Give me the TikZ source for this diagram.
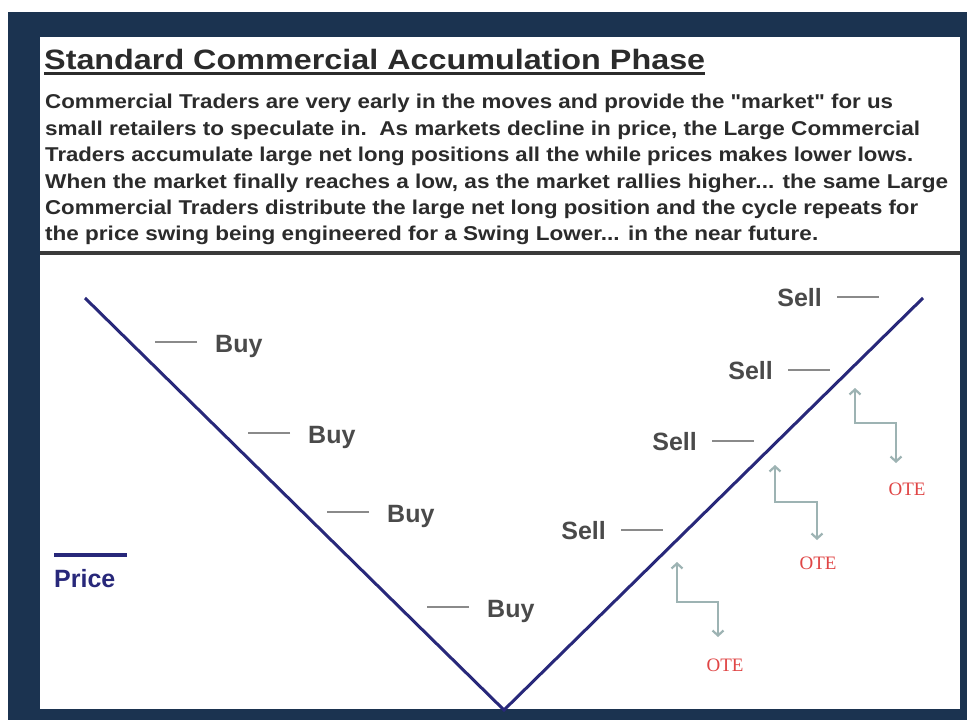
\documentclass[tikz,border=0pt]{standalone}
\usepackage{fontspec}
\setmainfont{Liberation Sans}
\newfontfamily\bodyfont{Liberation Sans}[Ligatures=TeXOff]
\newfontfamily\otefont{Liberation Serif}
\usepackage{graphicx}
\usetikzlibrary{arrows.meta}
\definecolor{framecol}{HTML}{1B3350}
\definecolor{navy}{HTML}{28287A}
\definecolor{txt}{HTML}{2B2B2B}
\definecolor{lblgray}{HTML}{4A4A4A}
\definecolor{dashgray}{HTML}{8A8A8A}
\definecolor{otearrow}{HTML}{9DB3B3}
\definecolor{otered}{HTML}{E04545}
\definecolor{sepgray}{HTML}{3A3A3A}
\newcommand{\fitw}[2]{\resizebox{#1}{\height}{#2}}
\begin{document}
\begin{tikzpicture}[x=1pt,y=-1pt,
  bodyline/.style={anchor=base west, inner sep=0pt, text=txt, font=\bodyfont\fontsize{20}{22}\selectfont\bfseries},
  lbl/.style={inner sep=0pt, text=lblgray, font=\fontsize{25}{27}\selectfont\bfseries},
  dashln/.style={draw=dashgray, line width=2.5pt},
  ote/.style={inner sep=0pt, text=otered, font=\otefont\fontsize{19}{20}\selectfont},
  otearr/.style={draw=otearrow, line width=2.2pt, {Straight Barb[length=5pt,width=11pt]}-{Straight Barb[length=5pt,width=11pt]}}
]
\useasboundingbox (0,0) rectangle (967,720);
\fill[white] (0,0) rectangle (967,720);
\fill[framecol] (8,12) rectangle (967,720);
\fill[white] (40,37) rectangle (960,709);

% title
\node[anchor=base west, inner sep=0pt, text=txt, font=\fontsize{28}{30}\selectfont\bfseries] (title) at (44,69) {\fitw{661pt}{Standard Commercial Accumulation Phase}};
\draw[txt, line width=3pt] ([yshift=-4.5pt]title.base west) -- ([yshift=-4.5pt]title.base east);

% body text
\node[bodyline] (l1) at (45,108) {\fitw{848pt}{Commercial Traders are very early in the moves and provide the "market" for us}};
\node[bodyline] (l2) at (45,135) {\fitw{875pt}{small retailers to speculate in.\ \ As markets decline in price, the Large Commercial}};
\node[bodyline] (l3) at (45,161) {\fitw{868pt}{Traders accumulate large net long positions all the while prices makes lower lows.}};
\node[bodyline] (l4) at (45,188) {\fitw{903pt}{When the market finally reaches a low, as the market rallies higher... the same Large}};
\node[bodyline] (l5) at (45,214) {\fitw{873pt}{Commercial Traders distribute the large net long position and the cycle repeats for}};
\node[bodyline] (l6) at (45,240) {\fitw{773pt}{the price swing being engineered for a Swing Lower... in the near future.}};

% separator
\draw[sepgray, line width=4pt] (40,253) -- (960,253);

% V price line
\coordinate (vl) at (85,298);
\coordinate (vb) at (504,710);
\coordinate (vr) at (923,298);
\draw[navy, line width=3pt, line join=miter] (vl) -- (vb) -- (vr);

% Buy labels
\node[lbl, anchor=base west] (buy1) at (215,352) {Buy};
\node[lbl, anchor=base west] (buy2) at (308,443) {Buy};
\node[lbl, anchor=base west] (buy3) at (387,522) {Buy};
\node[lbl, anchor=base west] (buy4) at (487,617) {Buy};
\foreach \b in {buy1,buy2,buy3,buy4}
  \draw[dashln] ([xshift=-18pt,yshift=10pt]\b.base west) -- ++(-42,0);

% Sell labels
\node[lbl, anchor=base east] (sell1) at (822,306) {Sell};
\node[lbl, anchor=base east] (sell2) at (773,379) {Sell};
\node[lbl, anchor=base east] (sell3) at (697,450) {Sell};
\node[lbl, anchor=base east] (sell4) at (606,539) {Sell};
\foreach \s in {sell1,sell2,sell3,sell4}
  \draw[dashln] ([xshift=15pt,yshift=9pt]\s.base east) -- ++(42,0);

% Price legend
\node[lbl, anchor=base west, text=navy] (price) at (54,587) {Price};
\draw[navy, line width=3.5pt] ([yshift=32pt]price.base west) -- ++(73,0);

% OTE
\node[ote] (ote1) at (725,665) {OTE};
\node[ote] (ote2) at (818,563) {OTE};
\node[ote] (ote3) at (907,489) {OTE};
\coordinate (a1s) at (677,562); \coordinate (a1e) at (718,637);
\coordinate (a2s) at (775,465); \coordinate (a2e) at (817,540);
\coordinate (a3s) at (855,388); \coordinate (a3e) at (896,463);
\draw[otearr] (a1s) -- ++(0,40) -| (a1e);
\draw[otearr] (a2s) -- ++(0,37) -| (a2e);
\draw[otearr] (a3s) -- ++(0,35) -| (a3e);
\end{tikzpicture}
\end{document}
